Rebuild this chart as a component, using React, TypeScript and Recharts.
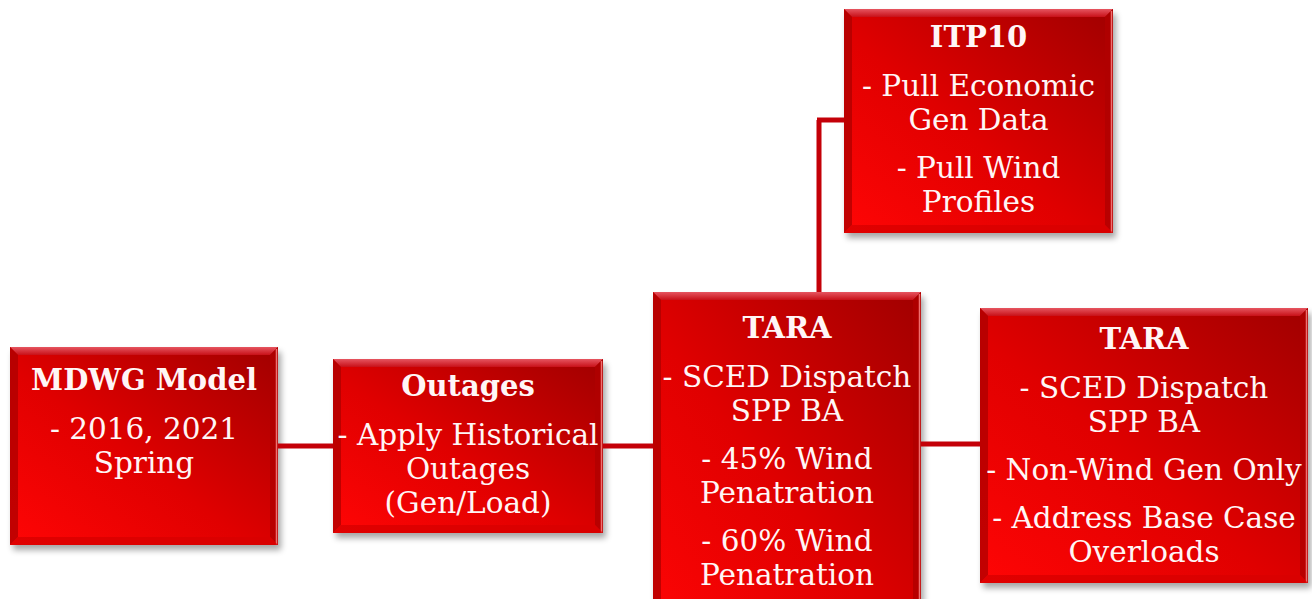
import { ComposedChart, XAxis, YAxis, ReferenceArea, ReferenceLine, Scatter } from 'recharts'

// node content
const nodeTitles = ['MDWG Model', 'Outages', 'TARA', 'ITP10', 'TARA']
const nodeBullets: string[][][] = [
  [['- 2016, 2021', 'Spring']],
  [['- Apply Historical', 'Outages', '(Gen/Load)']],
  [['- SCED Dispatch', 'SPP BA'], ['- 45% Wind', 'Penatration'], ['- 60% Wind', 'Penatration']],
  [['- Pull Economic', 'Gen Data'], ['- Pull Wind', 'Profiles']],
  [['- SCED Dispatch', 'SPP BA'], ['- Non-Wind Gen Only'], ['- Address Base Case', 'Overloads']],
]

// node extents (diagram units)
const nodeX1 = [10, 333, 653, 844, 980]
const nodeX2 = [278, 603, 921, 1113, 1308]
const nodeY1 = [347, 359, 292, 9, 308]
const nodeY2 = [545, 533, 640, 233, 583]
const titleY = [380, 386, 328, 37, 339]

// connectors
const links = [
  [{ x: 278, y: 446 }, { x: 333, y: 446 }],
  [{ x: 603, y: 446 }, { x: 653, y: 446 }],
  [{ x: 921, y: 444 }, { x: 980, y: 444 }],
  [{ x: 819, y: 292 }, { x: 819, y: 120 }],
  [{ x: 817, y: 120 }, { x: 844, y: 120 }],
]

const W = 1312
const H = 599
const FONT = "'Century Schoolbook', 'DejaVu Serif', serif"
const LINE = 34
const GAP = 48

function Box(props: any) {
  const { x, y, width: w, height: h, idx } = props
  const b = 8
  const lines: { t: string; dy: number }[] = []
  let off = GAP
  nodeBullets[idx].forEach((bl, bi) => {
    bl.forEach((t, li) => {
      lines.push({ t, dy: off })
      off += li < bl.length - 1 ? LINE : 0
    })
    if (bi < nodeBullets[idx].length - 1) off += GAP
  })
  const cx = x + w / 2
  const ty = titleY[idx]
  return (
    <g>
      <rect x={x + 3} y={y + 5} width={w} height={h} fill="#000" opacity={0.35} filter="url(#boxShadow)" />
      <rect x={x} y={y} width={w} height={h} fill="url(#boxFill)" />
      <polygon points={`${x},${y} ${x + w},${y} ${x + w - b},${y + b} ${x + b},${y + b}`} fill="url(#bevelTop)" />
      <polygon points={`${x},${y} ${x + b},${y + b} ${x + b},${y + h - b} ${x},${y + h}`} fill="#a80000" opacity={0.7} />
      <polygon points={`${x + w},${y} ${x + w},${y + h} ${x + w - b},${y + h - b} ${x + w - b},${y + b}`} fill="#b00000" opacity={0.8} />
      <line x1={x + w - 1.5} y1={y + 2} x2={x + w - 1.5} y2={y + h} stroke="#f07070" strokeWidth={1.5} />
      <polygon points={`${x},${y + h} ${x + b},${y + h - b} ${x + w - b},${y + h - b} ${x + w},${y + h}`} fill="#d80000" opacity={0.8} />
      <text x={cx} y={ty} dy="0.36em" textAnchor="middle" fill="#fff6f6" fontFamily={FONT} fontWeight="bold" fontSize={29}>
        {nodeTitles[idx]}
      </text>
      {lines.map((l, i) => (
        <text key={i} x={cx} y={ty + l.dy} dy="0.36em" textAnchor="middle" fill="#fff6f6" fontFamily={FONT} fontSize={29.5}>
          {l.t}
        </text>
      ))}
    </g>
  )
}

export default function App() {
  return (
    <div style={{ position: 'absolute', left: 0, top: 0, width: W, height: H, background: '#fff' }}>
      <ComposedChart width={W} height={H} margin={{ top: 0, right: 0, bottom: 0, left: 0 }}>
        <defs>
          <linearGradient id="boxFill" x1="0" y1="1" x2="1" y2="0">
            <stop offset="0%" stopColor="#ff0505" />
            <stop offset="45%" stopColor="#e00000" />
            <stop offset="100%" stopColor="#a00000" />
          </linearGradient>
          <linearGradient id="bevelTop" x1="0" y1="0" x2="0" y2="1">
            <stop offset="0%" stopColor="#e65560" />
            <stop offset="100%" stopColor="#c81018" />
          </linearGradient>
          <filter id="boxShadow" x="-10%" y="-10%" width="120%" height="120%">
            <feGaussianBlur stdDeviation="3" />
          </filter>
        </defs>
        <XAxis type="number" dataKey="x" domain={[0, W]} hide allowDataOverflow />
        <YAxis type="number" dataKey="y" domain={[0, H]} reversed hide allowDataOverflow />
        {links.map((seg, i) => (
          <ReferenceLine key={`l${i}`} segment={seg} stroke="#c40008" strokeWidth={5} ifOverflow="visible" />
        ))}
        {nodeTitles.map((_, i) => (
          <ReferenceArea
            key={`n${i}`}
            x1={nodeX1[i]}
            x2={nodeX2[i]}
            y1={nodeY1[i]}
            y2={nodeY2[i]}
            ifOverflow="visible"
            shape={(p: any) => <Box {...p} idx={i} />}
          />
        ))}
        <Scatter data={[{ x: 0, y: 0 }]} fill="none" shape={() => <g />} isAnimationActive={false} />
      </ComposedChart>
    </div>
  )
}
